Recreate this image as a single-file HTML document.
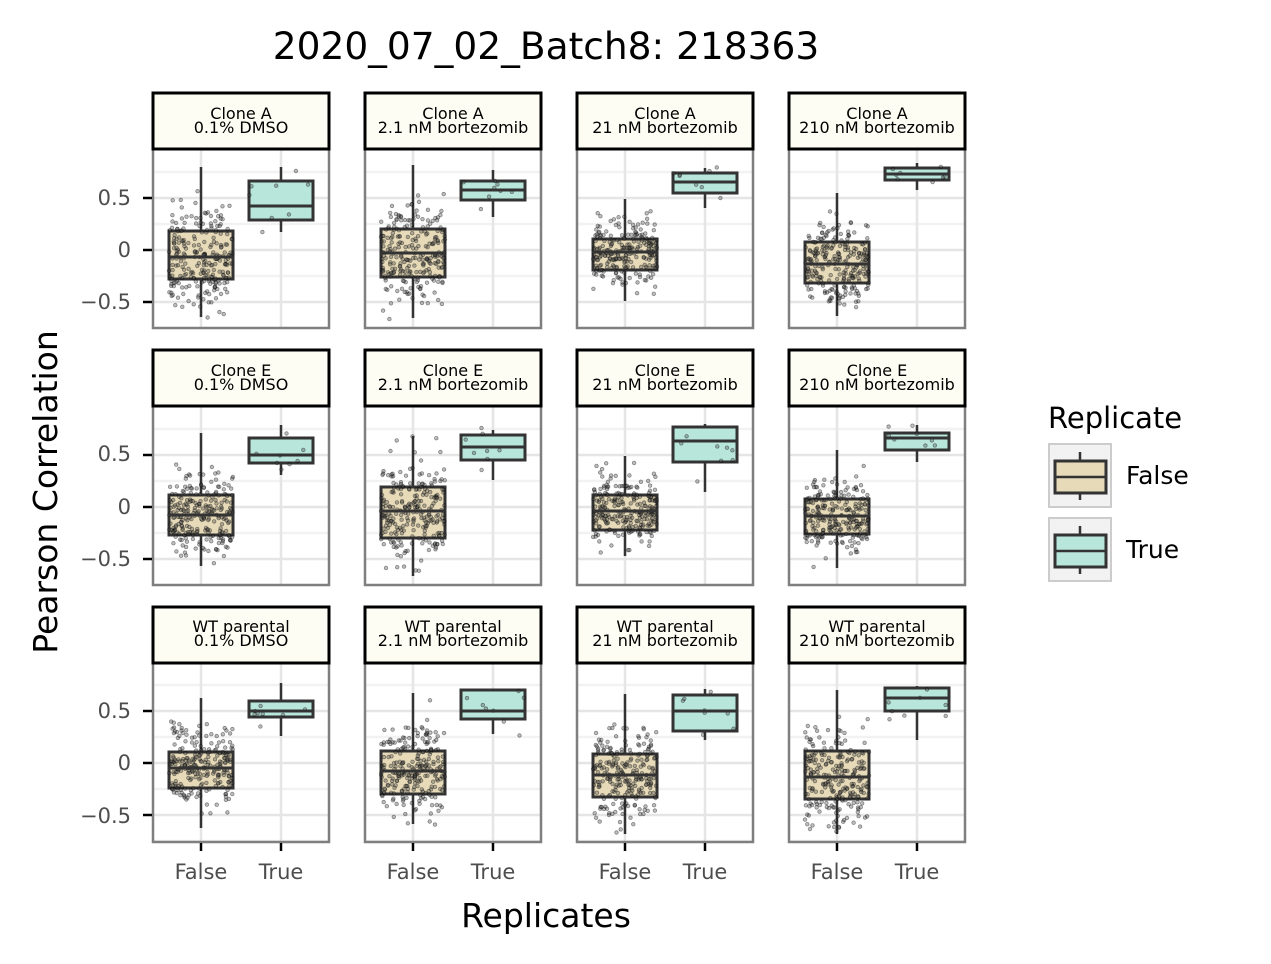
<!DOCTYPE html>
<html><head><meta charset="utf-8"><style>
html,body{margin:0;padding:0;background:#fff;}
svg{display:block;font-family:"DejaVu Sans","Liberation Sans",sans-serif;}
.tt{font-size:37.5px}.tx{font-size:33px}.t11{font-size:16px}.t14{font-size:21px}.t19{font-size:29px}.t17{font-size:25px}
</style></head><body>
<svg id="s" width="1271" height="964" viewBox="0 0 1271 964">
<rect width="1271" height="964" fill="#fff"/>
<g id="g"></g>
<g fill="#000">
<text class="tt" x="546" y="59" text-anchor="middle">2020_07_02_Batch8: 218363</text>
<text class="tx" x="546" y="927" text-anchor="middle">Replicates</text>
<text class="tx" transform="translate(57,492) rotate(-90)" text-anchor="middle">Pearson Correlation</text>
<text class="t19" x="1048" y="428">Replicate</text>
<text class="t17" x="1126" y="484">False</text>
<text class="t17" x="1126" y="558">True</text>
</g>
<g fill="#000" text-anchor="middle" class="t11">
<text x="241" y="119">Clone A</text><text x="241" y="133">0.1% DMSO</text>
<text x="453" y="119">Clone A</text><text x="453" y="133">2.1 nM bortezomib</text>
<text x="665" y="119">Clone A</text><text x="665" y="133">21 nM bortezomib</text>
<text x="877" y="119">Clone A</text><text x="877" y="133">210 nM bortezomib</text>
<text x="241" y="376">Clone E</text><text x="241" y="390">0.1% DMSO</text>
<text x="453" y="376">Clone E</text><text x="453" y="390">2.1 nM bortezomib</text>
<text x="665" y="376">Clone E</text><text x="665" y="390">21 nM bortezomib</text>
<text x="877" y="376">Clone E</text><text x="877" y="390">210 nM bortezomib</text>
<text x="241" y="632">WT parental</text><text x="241" y="646">0.1% DMSO</text>
<text x="453" y="632">WT parental</text><text x="453" y="646">2.1 nM bortezomib</text>
<text x="665" y="632">WT parental</text><text x="665" y="646">21 nM bortezomib</text>
<text x="877" y="632">WT parental</text><text x="877" y="646">210 nM bortezomib</text>
</g>
<g fill="#4d4d4d" text-anchor="end" class="t14">
<text x="131" y="205">0.5</text><text x="131" y="257">0</text><text x="131" y="309">−0.5</text>
<text x="131" y="461">0.5</text><text x="131" y="514">0</text><text x="131" y="566">−0.5</text>
<text x="131" y="718">0.5</text><text x="131" y="770">0</text><text x="131" y="823">−0.5</text>
</g>
<g fill="#4d4d4d" text-anchor="middle" class="t14">
<text x="201" y="879">False</text><text x="281" y="879">True</text>
<text x="413" y="879">False</text><text x="493" y="879">True</text>
<text x="625" y="879">False</text><text x="705" y="879">True</text>
<text x="837" y="879">False</text><text x="917" y="879">True</text>
</g>
</svg>
<script>
var g=document.getElementById('g'),h='';
var cols=[153,365,577,789],stripT=[93,350,607],zero=[250,507,763];
var data=[
[[167,231,257,279,317],[167,181,206,220,232]],
[[165,229,253,277,318],[170,181,190,200,217]],
[[199,239,252,270,301],[168,173,182,193,208]],
[[193,242,264,283,316],[163,168,174,180,190]],
[[433,495,515,535,566],[425,438,455,463,475]],
[[436,487,511,538,576],[430,435,447,460,480]],
[[456,495,511,530,556],[424,427,441,462,492]],
[[450,499,516,534,568],[425,433,438,450,462]],
[[698,752,768,788,828],[683,701,711,717,736]],
[[693,751,771,794,824],[690,690,711,719,734]],
[[694,754,775,797,834],[689,695,711,731,740]],
[[690,751,777,799,834],[686,688,698,711,740]]];
var seed=7;function rnd(){seed=(seed*16807)%2147483647;return seed/2147483647;}
function gauss(){return (rnd()+rnd()+rnd()+rnd()-2)/0.58;}
for(var r=0;r<3;r++)for(var c=0;c<4;c++){
 var x0=cols[c],st=stripT[r],pt=st+56,pb=st+235,z=zero[r];
 h+='<rect x="'+x0+'" y="'+pt+'" width="176" height="'+(pb-pt)+'" fill="#fff"/>';
 for(var k=-3;k<=3;k++){var yy=z-k*26;if(yy>pt&&yy<pb)h+='<line x1="'+x0+'" x2="'+(x0+176)+'" y1="'+yy+'" y2="'+yy+'" stroke="'+(k%2?'#f2f2f2':'#e5e5e5')+'" stroke-width="2.5"/>';}
 h+='<line x1="'+(x0+48)+'" x2="'+(x0+48)+'" y1="'+pt+'" y2="'+pb+'" stroke="#e5e5e5" stroke-width="2.5"/>';
 h+='<line x1="'+(x0+128)+'" x2="'+(x0+128)+'" y1="'+pt+'" y2="'+pb+'" stroke="#e5e5e5" stroke-width="2.5"/>';
 var d=data[r*4+c];
 [[0,'#e6dab9'],[1,'#b9e6db']].forEach(function(o){
  var b=d[o[0]],cx=x0+(o[0]?128:48);
  h+='<line x1="'+cx+'" x2="'+cx+'" y1="'+b[0]+'" y2="'+b[4]+'" stroke="#333" stroke-width="2.5"/>';
  h+='<rect x="'+(cx-32)+'" y="'+b[1]+'" width="64" height="'+(b[3]-b[1])+'" fill="'+o[1]+'" stroke="#333" stroke-width="3"/>';
  var n=o[0]?8:250,sd=(b[3]-b[1])/1.35;
  var pts='';
  for(var i=0;i<n;i++){var y=b[2]+gauss()*sd*0.7;if(y<b[0]-2||y>b[4]+2){i--;continue;}
   var x=cx+(rnd()-0.5)*64;
   pts+='<circle cx="'+x.toFixed(1)+'" cy="'+y.toFixed(1)+'" r="1.8" fill="#444" fill-opacity="0.35" stroke="#000" stroke-opacity="0.4" stroke-width="0.8"/>';}
  h+=pts;
  h+='<line x1="'+(cx-32)+'" x2="'+(cx+32)+'" y1="'+b[2]+'" y2="'+b[2]+'" stroke="#333" stroke-width="3"/>';
 });
 h+='<rect x="'+x0+'" y="'+pt+'" width="176" height="'+(pb-pt)+'" fill="none" stroke="#7f7f7f" stroke-width="2.5"/>';
 h+='<rect x="'+x0+'" y="'+st+'" width="176" height="56" fill="#fdfdf3" stroke="#000" stroke-width="3"/>';
 if(c==0)for(var k=-1;k<=1;k++){var yy=z-k*52;h+='<line x1="143" x2="152" y1="'+yy+'" y2="'+yy+'" stroke="#000" stroke-width="2.5"/>';}
 if(r==2){h+='<line x1="'+(x0+48)+'" x2="'+(x0+48)+'" y1="843" y2="851" stroke="#000" stroke-width="2.5"/>';h+='<line x1="'+(x0+128)+'" x2="'+(x0+128)+'" y1="843" y2="851" stroke="#000" stroke-width="2.5"/>';}
}
[[444,'#e6dab9'],[518,'#b9e6db']].forEach(function(o){var y=o[0];
 h+='<rect x="1049" y="'+y+'" width="62" height="63" fill="#f2f2f2" stroke="#cccccc" stroke-width="2"/>';
 h+='<line x1="1080" x2="1080" y1="'+(y+8)+'" y2="'+(y+56)+'" stroke="#333" stroke-width="2.5"/>';
 h+='<rect x="1055" y="'+(y+17)+'" width="51" height="32" fill="'+o[1]+'" stroke="#333" stroke-width="3"/>';
 h+='<line x1="1055" x2="1106" y1="'+(y+33)+'" y2="'+(y+33)+'" stroke="#333" stroke-width="2.5"/>';});
g.innerHTML=h;
</script>
</body></html>
